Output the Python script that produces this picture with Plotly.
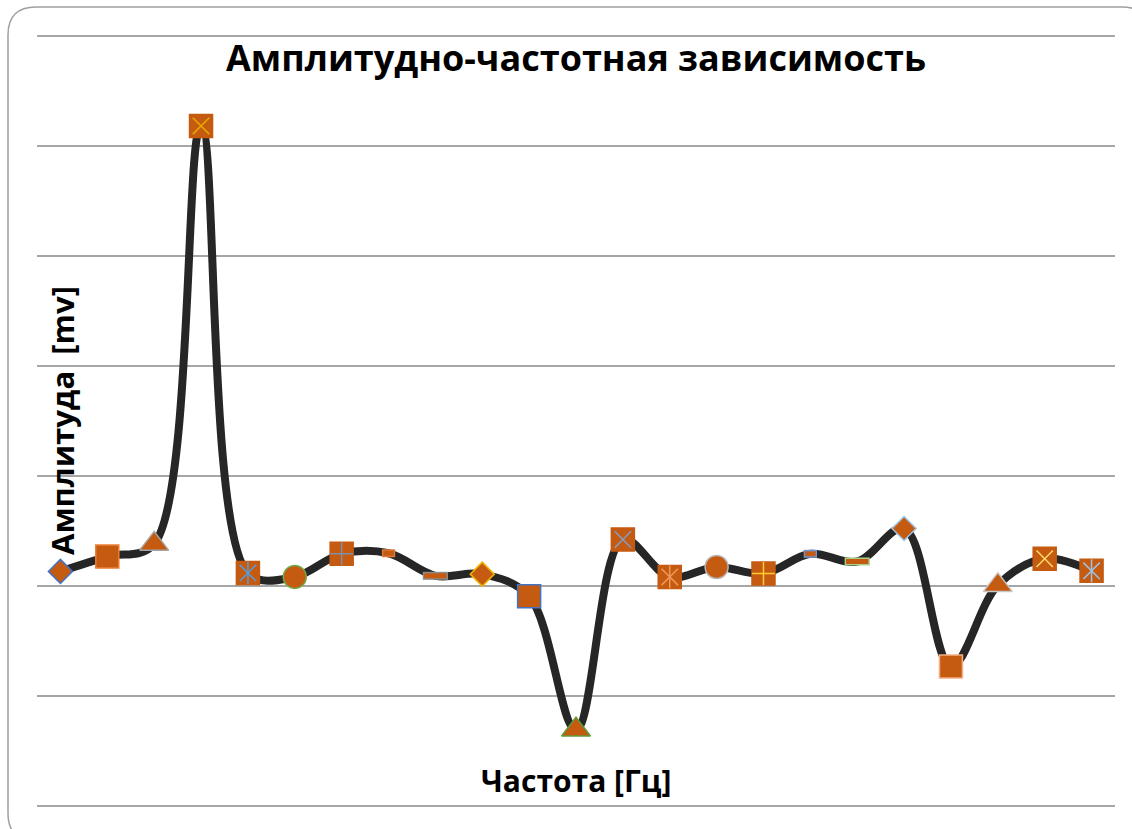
import plotly.graph_objects as go

W, H = 1132, 829

# Frequency points (category index) and measured amplitude, mV
freq = list(range(1, 24))
amplitude = [0.026, 0.053, 0.076, 0.836, 0.023, 0.016, 0.058, 0.059, 0.018, 0.021,
             -0.019, -0.262, 0.084, 0.016, 0.034, 0.022, 0.058, 0.044, 0.104, -0.147,
             0.001, 0.049, 0.027]

# Marker style per point (automatic series styles of the workbook)
symbols = ["diamond", "square", "triangle-up", "x", "star", "circle", "plus",
           "dash", "longdash", "diamond", "square", "triangle-up", "x", "star",
           "circle", "plus", "dash", "longdash", "diamond", "square",
           "triangle-up", "x", "star"]
edge_colors = ["#4472C4", "#ED7D31", "#A5A5A5", "#E3AA00", "#5B9BD5", "#70AD47", "#7F8FA9",
               "#E07A3A", "#8C8C8C", "#F0B400", "#4472C4", "#5E9A3A", "#7F9FC8", "#F1975A",
               "#B7B7B7", "#FFCD33", "#6E95D6", "#A9D18E", "#9DC3E6", "#F4B183",
               "#C9C9C9", "#FFD966", "#9DC3E6"]

FILL = "#C55A11"
LINE = "#262626"

title_text = "Амплитудно-частотная зависимость"
x_title = "Частота [Гц]"
y_title = "Амплитуда  [mv]"

fig = go.Figure()

# smoothed curve through all points
fig.add_trace(go.Scatter(
    x=freq, y=amplitude, mode="lines",
    line=dict(color=LINE, width=8, shape="spline", smoothing=1.0),
    hoverinfo="skip"))


def pick(kinds):
    idx = [i for i, s in enumerate(symbols) if s in kinds]
    return ([freq[i] for i in idx], [amplitude[i] for i in idx], [edge_colors[i] for i in idx])


def add(kinds, plotly_symbol, size, lw=1.5, fill=FILL, edge=None):
    xs, ys, cs = pick(kinds)
    fig.add_trace(go.Scatter(
        x=xs, y=ys, mode="markers",
        marker=dict(symbol=plotly_symbol, size=size, color=fill if fill else cs,
                    line=dict(color=edge if edge else cs, width=lw))))


# outlined shapes
add({"diamond"}, "diamond", 18.5)
add({"square"}, "square", 23)
add({"triangle-up"}, "triangle-up", 25)
add({"circle"}, "circle", 23)
# squares carrying inner strokes
add({"x", "star", "plus"}, "square", 23, edge=FILL)
add({"x", "star"}, "x-thin-open", 16.4, fill=None)
add({"plus"}, "cross-thin-open", 16.4, fill=None)
add({"star"}, "line-ns-open", 16.4, fill=None)

# dash markers: coloured outline, then orange bar
for kind, outer, inner, thick in (("dash", 9.5, 7.5, 6), ("longdash", 18, 16, 6)):
    add({kind}, "line-ew-open", outer, lw=thick + 2, fill=None)
    add({kind}, "line-ew-open", inner, lw=thick - 1, fill=FILL, edge=FILL)


def px(x):
    return x / W


def py(y):
    return 1 - y / H


# chart frame with rounded corners
L, T, R, B, r = 8, 7, 1150, 841, 28
frame = (f"M{px(L)},{py(B - r)} L{px(L)},{py(T + r)} Q{px(L)},{py(T)} {px(L + r)},{py(T)} "
         f"L{px(R - r)},{py(T)} Q{px(R)},{py(T)} {px(R)},{py(T + r)} "
         f"L{px(R)},{py(B - r)} Q{px(R)},{py(B)} {px(R - r)},{py(B)} "
         f"L{px(L + r)},{py(B)} Q{px(L)},{py(B)} {px(L)},{py(B - r)} Z")

# value axis spans -0.4 .. 1.0 with a small pad so the end gridlines are kept
pad = 0.004
ppu = 550.0  # pixels per mV
fig.update_layout(
    width=W, height=H, autosize=False,
    margin=dict(l=0, r=0, t=0, b=0),
    paper_bgcolor="white", plot_bgcolor="white",
    showlegend=False,
    xaxis=dict(domain=[px(37), px(1115)], range=[0.5, 23.5], showgrid=False,
               zeroline=False, showline=False, showticklabels=False, ticks=""),
    yaxis=dict(domain=[py(805.7 + pad * ppu), py(35.7 - pad * ppu)],
               range=[-0.4 - pad, 1.0 + pad], tick0=0, dtick=0.2,
               showgrid=True, gridcolor="#A6A6A6", gridwidth=1.5,
               zeroline=False, showline=False, showticklabels=False, ticks=""),
    shapes=[dict(type="path", path=frame, xref="paper", yref="paper",
                 line=dict(color="#A0A0A0", width=1.5), layer="above")],
    annotations=[
        dict(text=title_text, x=px(576), y=py(57), xref="paper", yref="paper",
             showarrow=False, xanchor="center", yanchor="middle",
             font=dict(family="Open Sans", size=36, color="black", weight="bold")),
        dict(text=x_title, x=px(576), y=py(780), xref="paper", yref="paper",
             showarrow=False, xanchor="center", yanchor="middle",
             font=dict(family="Open Sans", size=30, color="black", weight="bold")),
        dict(text=y_title, x=px(62), y=py(421), xref="paper", yref="paper",
             showarrow=False, xanchor="center", yanchor="middle", textangle=-90,
             font=dict(family="Open Sans", size=31, color="black", weight="bold")),
    ],
)

fig.write_html("out.html")
